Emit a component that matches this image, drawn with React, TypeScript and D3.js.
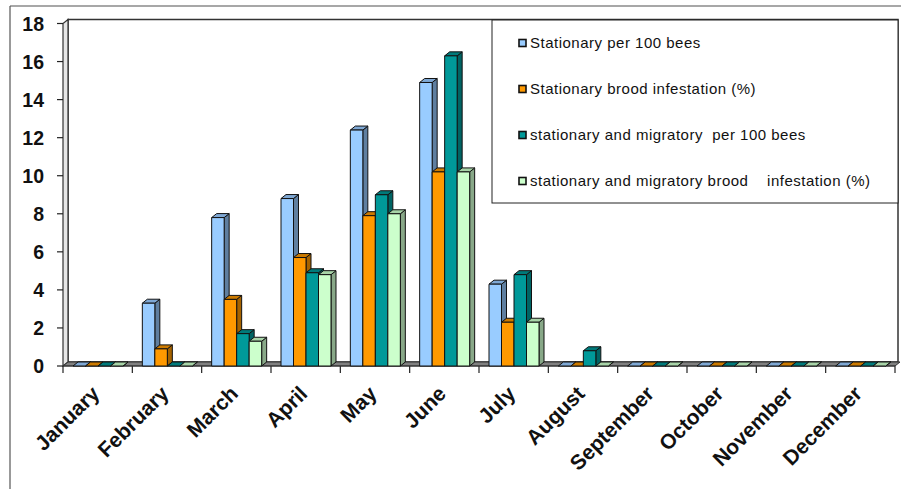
import React, { useEffect, useRef } from "react";
import * as d3 from "d3";

const months = ["January","February","March","April","May","June","July","August","September","October","November","December"];
const seriesNames = [
  "Stationary per 100 bees",
  "Stationary brood infestation (%)",
  "stationary and migratory  per 100 bees",
  "stationary and migratory brood    infestation (%)",
];
const stationaryPer100 = [0, 3.3, 7.8, 8.8, 12.4, 14.9, 4.3, 0, 0, 0, 0, 0];
const stationaryBrood = [0, 0.9, 3.5, 5.7, 7.9, 10.2, 2.3, 0, 0, 0, 0, 0];
const migratoryPer100 = [0, 0, 1.7, 4.9, 9.0, 16.3, 4.8, 0.8, 0, 0, 0, 0];
const migratoryBrood = [0, 0, 1.3, 4.8, 8.0, 10.2, 2.3, 0, 0, 0, 0, 0];
const yTicks = [0, 2, 4, 6, 8, 10, 12, 14, 16, 18];

const seriesValues = [stationaryPer100, stationaryBrood, migratoryPer100, migratoryBrood];
const frontColors = ["#99CCFF", "#FF9900", "#009999", "#CCFFCC"];
const sideColors = ["#5F7FA0", "#A66300", "#006464", "#88A888"];
const topColors = ["#7FA8D4", "#CC7A00", "#007A7A", "#A8D4A8"];

export default function App() {
  const ref = useRef<SVGSVGElement>(null);
  useEffect(() => {
    const svg = d3.select(ref.current);
    svg.selectAll("*").remove();
    const W = 901, H = 489;
    const x0 = 63, x1 = 895, yBase = 366, yTop = 23.5;
    const dx = 5, dy = 4;
    const font = "Liberation Sans, Arial, sans-serif";
    const x = d3.scaleBand<string>().domain(months).range([x0, x1]).paddingInner(0).paddingOuter(0);
    const xs = d3.scaleBand<number>().domain([0, 1, 2, 3]).range([10, 60]).padding(0);
    const y = d3.scaleLinear().domain([0, 18]).range([yBase, yTop]);

    svg.append("rect").attr("x", 0).attr("y", 0).attr("width", W).attr("height", H).attr("fill", "#fff");
    // outer border
    svg.append("line").attr("x1", 10).attr("y1", 6).attr("x2", W).attr("y2", 6).attr("stroke", "#8a8a8a").attr("stroke-width", 1.5);
    svg.append("line").attr("x1", 10).attr("y1", 6).attr("x2", 10).attr("y2", H).attr("stroke", "#555").attr("stroke-width", 1.2);

    // back wall
    svg.append("rect").attr("x", x0 + dx).attr("y", yTop - dy).attr("width", 898 - (x0 + dx)).attr("height", yBase - yTop)
      .attr("fill", "#fff").attr("stroke", "#333").attr("stroke-width", 1.5);
    // side wall
    svg.append("polygon")
      .attr("points", `${x0},${yBase} ${x0},${yTop} ${x0 + dx},${yTop - dy} ${x0 + dx},${yBase - dy}`)
      .attr("fill", "#e6e6e6").attr("stroke", "#333").attr("stroke-width", 1.2);
    // floor
    svg.append("polygon")
      .attr("points", `${x0},${yBase} ${x0 + dx},${yBase - dy} ${x1 + dx},${yBase - dy} ${x1},${yBase}`)
      .attr("fill", "#808080").attr("stroke", "#333").attr("stroke-width", 1);

    // y axis ticks
    const gy = svg.append("g");
    yTicks.forEach((t) => {
      gy.append("line").attr("x1", 57).attr("x2", x0).attr("y1", y(t)).attr("y2", y(t)).attr("stroke", "#222").attr("stroke-width", 1.2);
      gy.append("text").attr("x", 44).attr("y", y(t)).attr("dy", "0.36em").attr("text-anchor", "end")
        .attr("font-family", font).attr("font-weight", "bold").attr("font-size", 19.5).attr("fill", "#111").text(t);
    });

    // x ticks + labels
    const gx = svg.append("g");
    months.forEach((m, i) => {
      const bx = x(m)!;
      gx.append("line").attr("x1", bx).attr("x2", bx).attr("y1", yBase).attr("y2", yBase + 7).attr("stroke", "#222").attr("stroke-width", 1.2);
      if (i === months.length - 1) {
        gx.append("line").attr("x1", x1).attr("x2", x1).attr("y1", yBase).attr("y2", yBase + 7).attr("stroke", "#222").attr("stroke-width", 1.2);
      }
      const cx = bx + x.bandwidth() / 2;
      gx.append("text").attr("transform", `translate(${cx + 3},${395}) rotate(-45)`)
        .attr("text-anchor", "end")
        .attr("font-family", font).attr("font-weight", "bold").attr("font-size", 21).attr("fill", "#111").text(m);
    });

    // x axis line
    svg.append("line").attr("x1", x0).attr("x2", x1).attr("y1", yBase).attr("y2", yBase).attr("stroke", "#333").attr("stroke-width", 1);

    // bars
    const gb = svg.append("g").attr("stroke", "#111").attr("stroke-width", 1).attr("stroke-linejoin", "round");
    months.forEach((m, i) => {
      seriesValues.forEach((vals, s) => {
        const v = vals[i];
        const bx = x(m)! + xs(s)!;
        const w = xs.bandwidth();
        const yt = y(v);
        gb.append("polygon")
          .attr("points", `${bx + w},${yt} ${bx + w + dx},${yt - dy} ${bx + w + dx},${yBase - dy} ${bx + w},${yBase}`)
          .attr("fill", sideColors[s]);
        gb.append("polygon")
          .attr("points", `${bx},${yt} ${bx + dx},${yt - dy} ${bx + w + dx},${yt - dy} ${bx + w},${yt}`)
          .attr("fill", topColors[s]);
        if (v > 0) {
          gb.append("rect").attr("x", bx).attr("y", yt).attr("width", w).attr("height", yBase - yt).attr("fill", frontColors[s]);
        }
      });
    });

    // legend
    const lg = svg.append("g");
    lg.append("rect").attr("x", 492).attr("y", 20).attr("width", 406).attr("height", 183).attr("fill", "#fff").attr("stroke", "#222").attr("stroke-width", 1);
    const rowsY = [43, 89, 135, 181];
    seriesNames.forEach((name, s) => {
      lg.append("rect").attr("x", 519).attr("y", rowsY[s] - 3.5).attr("width", 7).attr("height", 7)
        .attr("fill", frontColors[s]).attr("stroke", "#111").attr("stroke-width", 1.6);
      lg.append("text").attr("x", 530).attr("y", rowsY[s]).attr("dy", "0.35em")
        .attr("font-family", font).attr("font-size", 15).attr("letter-spacing", 0.5).attr("fill", "#111")
        .attr("xml:space", "preserve").style("white-space", "pre").text(name);
    });
  }, []);
  return (
    <svg ref={ref} width={901} height={489} style={{ position: "absolute", left: 0, top: 0, display: "block" }} />
  );
}
